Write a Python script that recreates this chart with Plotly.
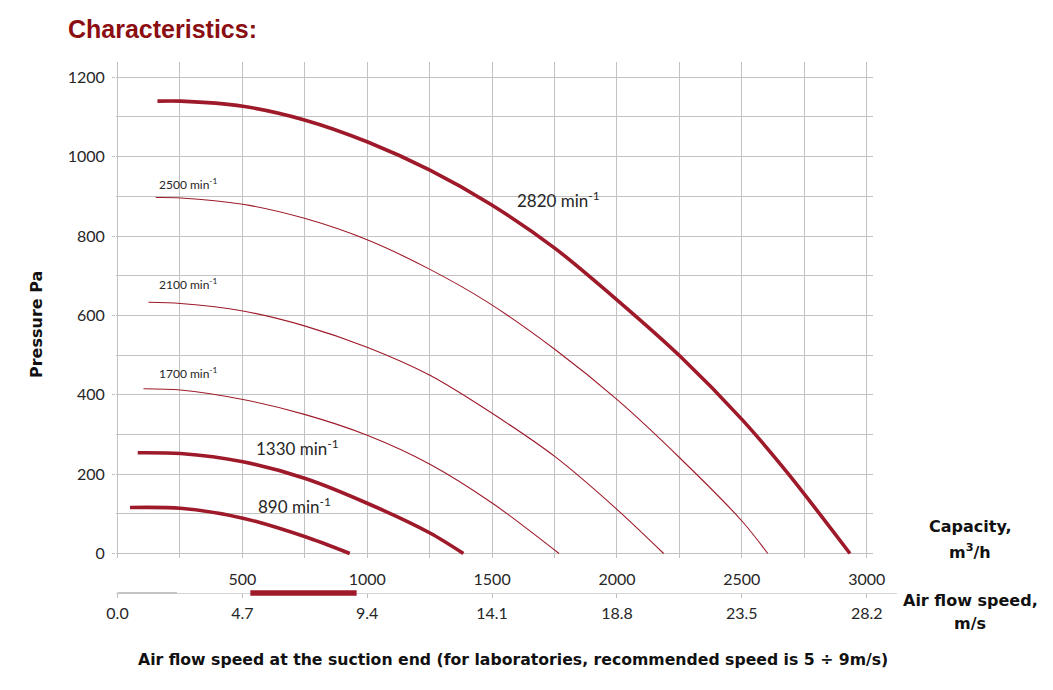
import plotly.graph_objects as go

# ---------------- data ----------------
# capacity in m3/h, pressure in Pa
q_2820 = [160, 253, 502, 752, 1002, 1251, 1494, 1752, 2002, 2253, 2503, 2687, 2933]
p_2820 = [1140, 1140, 1127, 1092, 1037, 966, 880, 769, 638, 497, 336, 200, 0]

q_2500 = [153, 253, 502, 752, 1002, 1251, 1480, 1752, 2002, 2253, 2503, 2604]
p_2500 = [897, 896, 880, 844, 790, 716, 634, 514, 387, 240, 80, 0]

q_2100 = [124, 252, 502, 752, 1002, 1251, 1503, 1752, 2002, 2187]
p_2100 = [633, 630, 611, 573, 519, 449, 352, 244, 110, 0]

q_1700 = [104, 252, 502, 752, 1000, 1251, 1503, 1768]
p_1700 = [415, 412, 388, 350, 298, 225, 126, 0]

q_1330 = [81, 252, 502, 752, 1002, 1253, 1385]
p_1330 = [254, 252, 231, 189, 126, 51, 0]

q_890 = [50, 252, 502, 752, 930]
p_890 = [116, 114, 89, 42, 0]

capacity_ticks = [500, 1000, 1500, 2000, 2500, 3000]
speed_ticks = [0.0, 4.7, 9.4, 14.1, 18.8, 23.5, 28.2]
recommended_speed = [5, 9]        # m/s
speed_axis_segment = [0, 2.24]    # m/s (grey stub on speed axis)

curve_labels = ["2820", "2500", "2100", "1700", "1330", "890"]

# ---------------- layout helpers ----------------
OFF = 8                      # default page (body) margin
W, H = 1053 - 2 * OFF, 690 - 2 * OFF
def fx(px):
    return (px - OFF) / W
def fy(py):
    return 1 - (py - OFF) / H

RED = "#9E1A2A"
GRID = "#c2c2c2"
TXT = "#262626"
TICKFONT = dict(family="Lato", size=16, color=TXT)
BOLD = dict(family="DejaVu Sans", size=16, color="#111111", weight="bold")

fig = go.Figure()

thick = dict(color=RED, width=3.6, shape="spline", smoothing=0.8)
thin = dict(color=RED, width=1.1, shape="spline", smoothing=0.8)

for q, p, ln in [(q_2500, p_2500, thin), (q_2100, p_2100, thin), (q_1700, p_1700, thin),
                 (q_2820, p_2820, thick), (q_1330, p_1330, thick), (q_890, p_890, thick)]:
    fig.add_trace(go.Scatter(x=q, y=p, mode="lines", line=ln, hoverinfo="skip",
                             xaxis="x", yaxis="y"))

# speed axis marks
fig.add_trace(go.Scatter(x=speed_axis_segment, y=[0, 0], mode="lines",
                         line=dict(color="#c4c4c4", width=2), xaxis="x2", yaxis="y2",
                         hoverinfo="skip"))
fig.add_trace(go.Scatter(x=recommended_speed, y=[0, 0], mode="lines",
                         line=dict(color=RED, width=5.5), xaxis="x2", yaxis="y2",
                         hoverinfo="skip"))

# axis geometry (pixels in the page)
X_L, X_R = 116, 873
Y_T, Y_B = 62, 557.5
px_per_q = 749.2 / 3000.0
q0_px = 117.5
x_range = [(X_L - q0_px) / px_per_q, (X_R - q0_px) / px_per_q]
px_per_p = 476.2 / 1200.0
p0_py = 553.5
y_range = [(p0_py - Y_B) / px_per_p, (p0_py - Y_T) / px_per_p]
px_per_v = px_per_q * 3000 / 28.2
X2_R = 897
x2_range = [(X_L - q0_px) / px_per_v, (X2_R - q0_px) / px_per_v]

fig.update_layout(
    width=W, height=H,
    margin=dict(l=0, r=0, t=0, b=0),
    paper_bgcolor="white", plot_bgcolor="white",
    showlegend=False,
    xaxis=dict(domain=[fx(X_L), fx(X_R)], range=x_range, anchor="y",
               tickmode="array", tickvals=capacity_ticks,
               ticktext=[str(v) for v in capacity_ticks],
               showgrid=True, gridcolor=GRID, gridwidth=1,
               minor=dict(tickmode="linear", tick0=0, dtick=250, showgrid=True,
                          gridcolor=GRID, gridwidth=1),
               zeroline=False, showline=False, ticks="",
               tickfont=TICKFONT, ticklabelstandoff=10, automargin=False),
    yaxis=dict(domain=[fy(Y_B), fy(Y_T)], range=y_range, anchor="x",
               tickmode="linear", tick0=0, dtick=200,
               showgrid=True, gridcolor=GRID, gridwidth=1,
               minor=dict(tickmode="linear", tick0=0, dtick=100, showgrid=True,
                          gridcolor=GRID, gridwidth=1),
               zeroline=False, showline=False, ticks="outside", ticklen=3,
               tickcolor=GRID, tickfont=TICKFONT, ticklabelstandoff=4,
               automargin=False),
    xaxis2=dict(domain=[fx(X_L), fx(X2_R)], range=x2_range, anchor="free",
                position=fy(593), side="bottom", layer="below traces",
                tickmode="array", tickvals=speed_ticks,
                ticktext=[f"{v:.1f}" for v in speed_ticks],
                showgrid=False, zeroline=False, showline=True, linecolor="#d4d4d4",
                linewidth=1, ticks="outside", ticklen=4, tickcolor="#bdbdbd",
                tickfont=TICKFONT, ticklabelstandoff=2, automargin=False),
    yaxis2=dict(domain=[fy(603), fy(583)], range=[-1, 1], anchor="x2",
                visible=False, fixedrange=True),
)

annotations = []
# title
annotations.append(dict(text="Characteristics:", x=fx(66), y=fy(29), xref="paper", yref="paper",
                        xanchor="left", yanchor="middle", showarrow=False,
                        font=dict(family="Liberation Sans", size=25, color="#8B0E12",
                                  weight="bold")))
# y title
annotations.append(dict(text="Pressure Pa", x=fx(36), y=fy(325), xref="paper", yref="paper",
                        xanchor="center", yanchor="middle", showarrow=False, textangle=-90,
                        font=BOLD))
# right labels
for txt, py in [("Capacity,", 526), ("m<sup>3</sup>/h", 551), ("Air flow speed,", 600), ("m/s", 623)]:
    annotations.append(dict(text=txt, x=fx(970), y=fy(py), xref="paper", yref="paper",
                            xanchor="center", yanchor="middle", showarrow=False, font=BOLD))
# bottom caption
annotations.append(dict(text="Air flow speed at the suction end (for laboratories, recommended speed is 5 ÷ 9m/s)",
                        x=fx(513), y=fy(659), xref="paper", yref="paper",
                        xanchor="center", yanchor="middle", showarrow=False,
                        font=dict(family="DejaVu Sans", size=15.7, color="#111111", weight="bold")))

# curve labels (data coords)
label_pos = {"2820": (1590, 892, 17), "2500": (160, 930, 12), "2100": (160, 678, 12),
             "1700": (160, 456, 12), "1330": (545, 268, 17), "890": (555, 122, 17)}
for name in curve_labels:
    lx, ly, fs = label_pos[name]
    annotations.append(dict(text=f"{name} min<sup>-1</sup>", x=lx, y=ly, xref="x", yref="y",
                            xanchor="left", yanchor="middle", showarrow=False,
                            font=dict(family="Lato", size=fs, color=TXT)))

fig.update_layout(annotations=annotations)

fig.write_html("out.html")
